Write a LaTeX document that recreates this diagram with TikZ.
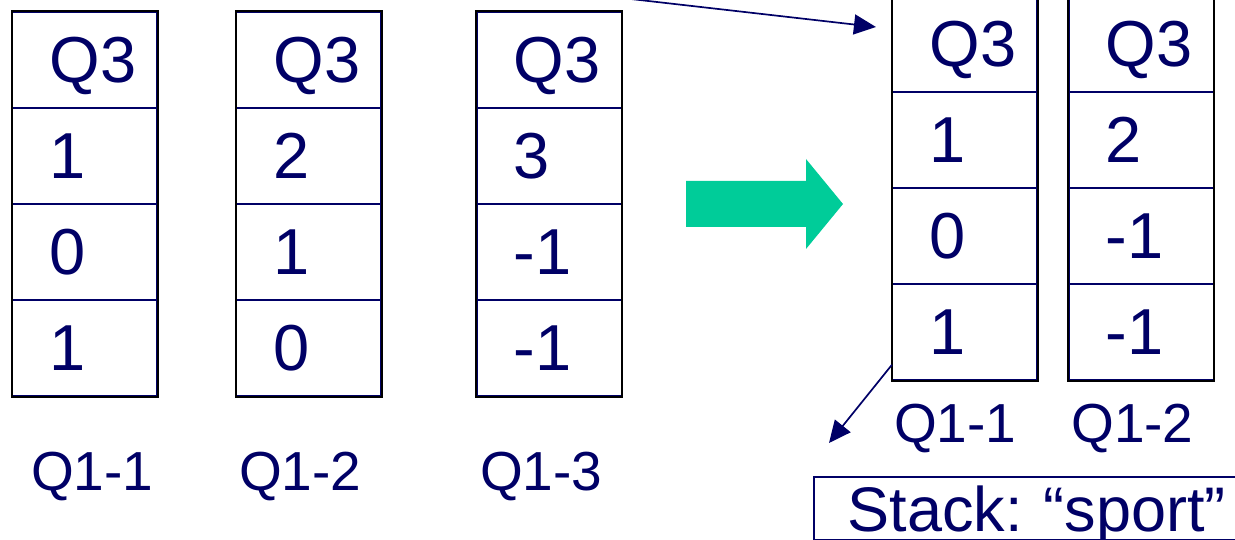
\documentclass[tikz,border=0pt]{standalone}
\usepackage{fontspec}
\setmainfont{Liberation Sans}
\usetikzlibrary{arrows.meta,calc}
\definecolor{navy}{RGB}{0,0,102}
\definecolor{gogreen}{RGB}{0,204,153}
\hfuzz=40pt
\frenchspacing
\begin{document}
\begin{tikzpicture}[x=1pt,y=-1pt]
        \tikzstyle{every node}=[text=navy]
        \tikzstyle{cell}=[draw=navy, line width=1.5pt, font=\fontsize{65}{70}\selectfont,
            text width=70.5pt, align=left, inner xsep=37pt, inner ysep=0pt,
            minimum height=96pt, text depth=0pt]
        \tikzstyle{frame}=[draw=black, line width=2pt]
        \tikzstyle{tag}=[anchor=base west, inner sep=0pt, font=\fontsize{55}{60}\selectfont]
        \tikzstyle{ptr}=[draw=navy, line width=1.7pt, -{Triangle[length=22pt,width=20pt]}]

        \useasboundingbox (0,0) rectangle (1235,540);

        \foreach \s/\x/\y/\vals in {p/12.5/12/{Q3,1,0,1}, q/236.7/12/{Q3,2,1,0},
            r/476.8/12/{Q3,3,-1,-1}, s/892.7/-4/{Q3,1,0,1}, t/1068.8/-4/{Q3,2,-1,-1}}{
            \foreach \v [count=\i] in \vals
                \node[cell](\s\i)at(\x+72.25,\y+96*\i-48){\v};
            \draw[frame] (\s1.north west) rectangle (\s4.south east);
        }

        \node[tag](lp)at(31,490){Q1-1};
        \node[tag](lq)at(239,490){Q1-2};
        \node[tag](lr)at(480,490){Q1-3};
        \node[tag](ls)at(894,442){Q1-1};
        \node[tag](lt)at(1071,442){Q1-2};

        \node[draw=navy, line width=1.5pt, anchor=north west, font=\fontsize{63}{68}\selectfont,
            text width=356pt, align=left, inner xsep=34pt, inner ysep=0pt,
            minimum height=63pt, text depth=0pt](stk)at(813,476){\mbox{Stack: “sport”}};

        \fill[gogreen] (686,181) -- (806,181) -- (806,159) -- (843,204)
            -- (806,249) -- (806,227) -- (686,227) -- cycle;

        \coordinate (from) at (622,-2);
        \draw[ptr] (from) -- ($(s1.west)+(-16,-17)$);
        \draw[ptr] ($(s4.south west)+(0,-16)$) -- ($(stk.north west)+(16,-33)$);
    \end{tikzpicture}
\end{document}
